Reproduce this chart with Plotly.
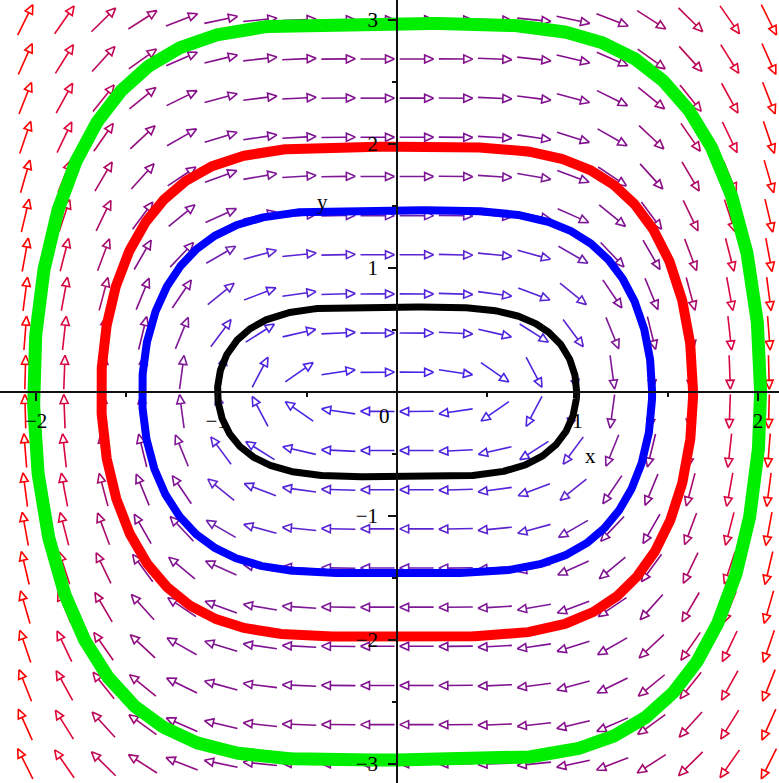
import numpy as np
import plotly.graph_objects as go

# ---------------- data ----------------
# solution curves of x' = y, y' = -x^3 (closed orbits)
curve_names = ["black", "blue", "red", "green"]
curve_colors = ["#000000", "#0000FF", "#FF0000", "#00EE00"]
curve_x_intercepts = [0.995, 1.413, 1.64, 2.014]
curve_y_intercepts = [0.685, 1.464, 1.976, 2.97]
curve_widths = [7, 8, 10, 13]

# direction-field grid (20 x 20)
field_x = np.linspace(-2.06, 2.06, 20)
field_y = np.linspace(-3.0, 3.0, 20)

# axes / ticks
x_range = [-2.2, 2.116]
y_range = [-3.155, 3.16]
x_major = [-2, -1, 1, 2]
x_major_text = ["\u22122", "\u22121", "1", "2"]
x_minor = [-1.5, -0.5, 0.5, 1.5]
y_major = [-3, -2, -1, 1, 2, 3]
y_major_text = ["\u22123", "\u22122", "\u22121", "1", "2", "3"]
y_minor = [-2.5, -1.5, -0.5, 0.5, 1.5, 2.5]

# arrow colour by speed
speed_stops = [0.0, 1.2, 1.6, 3.2, 5.2, 7.5, 9.0]
rgb_stops = [(70, 40, 235), (95, 40, 210), (125, 25, 155), (138, 15, 138),
             (195, 10, 90), (240, 5, 40), (255, 0, 0)]

W, H = 779, 783
FONT = "Liberation Serif"

# ---------------- helpers ----------------
sx = W / (x_range[1] - x_range[0])   # px per x unit
sy = H / (y_range[1] - y_range[0])   # px per y unit


def speed_color(s):
    s = min(max(s, speed_stops[0]), speed_stops[-1])
    for i in range(len(speed_stops) - 1):
        if s <= speed_stops[i + 1]:
            t = (s - speed_stops[i]) / (speed_stops[i + 1] - speed_stops[i])
            c0, c1 = rgb_stops[i], rgb_stops[i + 1]
            return tuple(int(round(c0[k] + t * (c1[k] - c0[k]))) for k in range(3))
    return rgb_stops[-1]


L = 34.0      # arrow length px
HL = 9.0      # head length px
HW = 4.0      # head half width px

groups = {}
for xv in field_x:
    for yv in field_y:
        u, v = yv, -xv ** 3
        pu, pv = u * sx, v * sy
        n = np.hypot(pu, pv)
        if n == 0:
            continue
        dx, dy = pu / n, pv / n
        cx, cy = xv * sx, yv * sy
        tail = (cx - dx * L / 2, cy - dy * L / 2)
        tip = (cx + dx * L / 2, cy + dy * L / 2)
        base = (tip[0] - dx * HL, tip[1] - dy * HL)
        nx, ny = -dy, dx
        p1 = (base[0] + nx * HW, base[1] + ny * HW)
        p2 = (base[0] - nx * HW, base[1] - ny * HW)
        pts = [tail, base, None, tip, p1, p2, tip, None]
        col = speed_color(np.hypot(u, v))
        key = tuple((c // 6) * 6 for c in col)
        gx, gy = groups.setdefault(key, ([], []))
        for p in pts:
            if p is None:
                gx.append(None)
                gy.append(None)
            else:
                gx.append(p[0] / sx)
                gy.append(p[1] / sy)

fig = go.Figure()
for key, (gx, gy) in groups.items():
    fig.add_trace(go.Scatter(x=gx, y=gy, mode="lines",
                             line=dict(color="rgb(%d,%d,%d)" % key, width=1.6),
                             hoverinfo="skip", showlegend=False))

t = np.linspace(0, 2 * np.pi, 1441)
for name, col, a, b, w in zip(curve_names, curve_colors, curve_x_intercepts,
                              curve_y_intercepts, curve_widths):
    c = np.cos(t)
    xs = a * np.sign(c) * np.sqrt(np.abs(c))
    ys = b * np.sin(t)
    fig.add_trace(go.Scatter(x=xs, y=ys, mode="lines", name=name,
                             line=dict(color=col, width=w),
                             hoverinfo="skip", showlegend=False))

xpos = (0 - y_range[0]) / (y_range[1] - y_range[0])
ypos = (0 - x_range[0]) / (x_range[1] - x_range[0])

axis_common = dict(showgrid=False, zeroline=False, showline=True,
                   linecolor="#111", linewidth=1.6, ticks="outside",
                   tickcolor="#111", tickwidth=1.6, ticklen=8,
                   tickfont=dict(family=FONT, size=21, color="black"),
                   layer="above traces", anchor="free")

fig.update_layout(
    width=W, height=H,
    margin=dict(l=0, r=0, t=0, b=0, autoexpand=False),
    paper_bgcolor="white", plot_bgcolor="white",
    showlegend=False,
    xaxis=dict(range=x_range, position=xpos, tickmode="array",
               tickvals=x_major, ticktext=x_major_text,
               minor=dict(tickmode="array", tickvals=x_minor, ticks="outside",
                          ticklen=4, tickwidth=1.6, tickcolor="#111", showgrid=False),
               ticklabelstandoff=2, automargin=False,
               **axis_common),
    yaxis=dict(range=y_range, position=ypos, tickmode="array",
               tickvals=y_major, ticktext=y_major_text,
               minor=dict(tickmode="array", tickvals=y_minor, ticks="outside",
                          ticklen=4, tickwidth=1.6, tickcolor="#111", showgrid=False),
               ticklabelstandoff=6, automargin=False,
               **axis_common),
)

fig.add_annotation(x=0, y=0, text="0", showarrow=False, xshift=-13, yshift=-24,
                   font=dict(family=FONT, size=21, color="black"))
fig.add_annotation(x=1.07, y=-0.52, text="x", showarrow=False,
                   font=dict(family=FONT, size=21, color="black"))
fig.add_annotation(x=-0.415, y=1.53, text="y", showarrow=False,
                   font=dict(family=FONT, size=21, color="black"))

fig.write_html("out.html",
               config={"displayModeBar": False},
               post_script="document.body.style.margin='0';"
                           "document.body.style.overflow='hidden';")
